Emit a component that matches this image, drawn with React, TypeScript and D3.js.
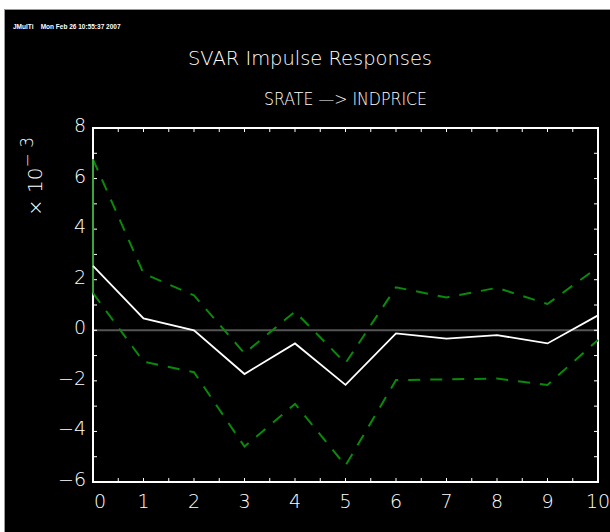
import React, { useEffect, useRef } from "react";
import * as d3 from "d3";

// impulse response horizon (periods)
const horizons = [0, 1, 2, 3, 4, 5, 6, 7, 8, 9, 10];
// point estimate, x 10^-3
const response = [2.55, 0.47, 0.0, -1.73, -0.52, -2.16, -0.12, -0.33, -0.19, -0.52, 0.59];
// confidence band
const upperBand = [6.76, 2.25, 1.38, -0.91, 0.74, -1.3, 1.7, 1.3, 1.68, 1.04, 2.5];
const lowerBand = [1.47, -1.24, -1.66, -4.6, -2.91, -5.35, -1.97, -1.94, -1.91, -2.16, -0.38];
const yTickLabels = [-6, -4, -2, 0, 2, 4, 6, 8];

const W = 610;
const H = 532;
const FONT = "'DejaVu Sans', 'Liberation Sans', sans-serif";

export default function App() {
    const svgRef = useRef<SVGSVGElement>(null);

    useEffect(() => {
        const svg = d3.select(svgRef.current);
        svg.selectAll("*").remove();

        // page frame: white edge, grey rule, black canvas
        svg.append("rect").attr("width", W).attr("height", H).attr("fill", "white");
        svg.append("rect").attr("x", 4).attr("y", 9).attr("width", W - 4).attr("height", H - 9).attr("fill", "#9a9a9a");
        svg.append("rect").attr("x", 5).attr("y", 10).attr("width", W - 5).attr("height", H - 10).attr("fill", "black");

        const xScale = d3.scaleLinear().domain([0, 10]).range([93, 598]);
        const yScale = d3.scaleLinear().domain([-6, 8]).range([482, 128]);

        // header texts
        svg.append("text")
            .attr("x", 13).attr("y", 29)
            .attr("fill", "white").attr("font-family", "'Liberation Sans', Arial, sans-serif")
            .attr("font-size", 6.5).attr("font-weight", "bold")
            .attr("xml:space", "preserve")
            .text("JMulTi    Mon Feb 26 10:55:37 2007");

        svg.append("text")
            .attr("x", 188).attr("y", 65)
            .attr("fill", "white").attr("font-family", FONT).attr("font-weight", 200)
            .attr("font-size", 20)
            .attr("textLength", 244).attr("lengthAdjust", "spacingAndGlyphs")
            .text("SVAR Impulse Responses");

        svg.append("text")
            .attr("x", 264).attr("y", 105)
            .attr("fill", "white").attr("font-family", FONT).attr("font-weight", 200)
            .attr("font-size", 17)
            .attr("textLength", 163).attr("lengthAdjust", "spacingAndGlyphs")
            .text("SRATE \u2014> INDPRICE");

        // y axis unit label
        const unit = svg.append("text")
            .attr("transform", "translate(42,216) rotate(-90)")
            .attr("fill", "white").attr("font-family", FONT).attr("font-weight", 200)
            .attr("font-size", 20);
        unit.append("tspan").text("\u00d7 10");
        unit.append("tspan").attr("dy", -9).attr("font-size", 17).text("\u2212 3");

        // zero line
        svg.append("line")
            .attr("x1", xScale(0)).attr("x2", xScale(10))
            .attr("y1", yScale(0)).attr("y2", yScale(0))
            .attr("stroke", "#555").attr("stroke-width", 2);

        // plot box
        svg.append("rect")
            .attr("x", xScale(0)).attr("y", yScale(8))
            .attr("width", xScale(10) - xScale(0)).attr("height", yScale(-6) - yScale(8))
            .attr("fill", "none").attr("stroke", "white").attr("stroke-width", 2);

        // inward ticks on all four sides
        const xt = d3.range(0.5, 10, 0.5);
        const yt = d3.range(-5, 8, 1);
        const tl = 4;
        const ticks = svg.append("g").attr("stroke", "white").attr("stroke-width", 1);
        xt.forEach(t => {
            ticks.append("line").attr("x1", xScale(t)).attr("x2", xScale(t)).attr("y1", yScale(-6)).attr("y2", yScale(-6) - tl);
            ticks.append("line").attr("x1", xScale(t)).attr("x2", xScale(t)).attr("y1", yScale(8)).attr("y2", yScale(8) + tl);
        });
        yt.forEach(t => {
            ticks.append("line").attr("x1", xScale(0)).attr("x2", xScale(0) + tl).attr("y1", yScale(t)).attr("y2", yScale(t));
            ticks.append("line").attr("x1", xScale(10)).attr("x2", xScale(10) - tl).attr("y1", yScale(t)).attr("y2", yScale(t));
        });

        // tick labels
        svg.append("g")
            .selectAll("text")
            .data(horizons)
            .join("text")
            .attr("x", d => xScale(d) + (d === 0 ? 7 : 0))
            .attr("y", 508)
            .attr("text-anchor", "middle")
            .attr("fill", "white").attr("font-family", FONT).attr("font-weight", 200)
            .attr("font-size", 19)
            .text(d => d);

        svg.append("g")
            .selectAll("text")
            .data(yTickLabels)
            .join("text")
            .attr("x", 86)
            .attr("y", d => yScale(d) + 4)
            .attr("text-anchor", "end")
            .attr("fill", "white").attr("font-family", FONT).attr("font-weight", 200)
            .attr("font-size", 19)
            .text(d => (d < 0 ? "\u2212" + Math.abs(d) : String(d)));

        const line = d3.line<number>()
            .x((d, i) => xScale(horizons[i]))
            .y(d => yScale(d));

        // confidence band
        [upperBand, lowerBand].forEach(band => {
            svg.append("path")
                .attr("d", line(band))
                .attr("fill", "none")
                .attr("stroke", "#0a8a0a")
                .attr("stroke-width", 2)
                .attr("stroke-dasharray", "12,10");
        });
        svg.append("line")
            .attr("x1", xScale(0)).attr("x2", xScale(0))
            .attr("y1", yScale(upperBand[0])).attr("y2", yScale(lowerBand[0]))
            .attr("stroke", "#3aa53a").attr("stroke-width", 2);

        // point estimate
        svg.append("path")
            .attr("d", line(response))
            .attr("fill", "none")
            .attr("stroke", "white")
            .attr("stroke-width", 1.8);
    }, []);

    return (
        <svg ref={svgRef} width={W} height={H}
             style={{ position: "absolute", left: 0, top: 0, display: "block" }} />
    );
}
